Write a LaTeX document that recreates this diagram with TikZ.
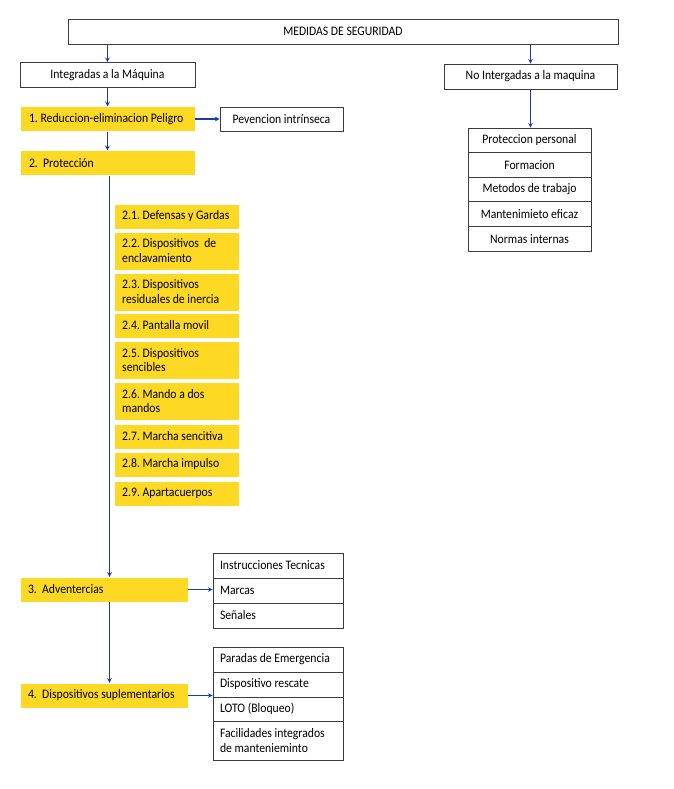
\documentclass[tikz,border=0pt]{standalone}
\usepackage{fontspec}
\setmainfont[FakeStretch=0.9]{Carlito}
\usepackage{tikz}
\usetikzlibrary{positioning, arrows}
\definecolor{yell}{RGB}{253,217,35}
\definecolor{linkblue}{RGB}{25,60,170}
\definecolor{edge}{RGB}{60,60,60}

\begin{document}
\frenchspacing
\begin{tikzpicture}[x=1pt,y=-1pt,->,>=stealth,
    font=\fontsize{13}{14.4}\selectfont,
    box/.style={draw=edge,line width=0.7pt,fill=white,inner sep=0pt,minimum height=25,align=center},
    item/.style={box,minimum width=130,text width=116,align=flush left},
    ybox/.style={fill=yell,draw=white,thin,inner xsep=8,inner ysep=0,minimum height=25,align=flush left},
    sub/.style={ybox,anchor=north west,text width=109},
    every edge/.append style={draw=linkblue,line width=1.1pt}]
      \useasboundingbox (0,0) rectangle (673,789);
      \hyphenpenalty=10000

      \node[box,minimum width=550] (top) at (343,31.5) {MEDIDAS DE SEGURIDAD};
      \node[box,minimum width=175] (int) at (107.5,75) {Integradas a la Máquina};
      \node[box,minimum width=173] (noint) at (530.5,76.5) {No Intergadas a la maquina};

      % no integradas
      \node[box,minimum width=123,minimum height=24.6] (pp) at (529.5,140.3) {Proteccion personal};
      \node[box,minimum width=123,minimum height=24.6] (form) at (529.5,164.9) {Formacion};
      \node[box,minimum width=123,minimum height=24.6] (met) at (529.5,189.5) {Metodos de trabajo};
      \node[box,minimum width=123,minimum height=24.6] (mant) at (529.5,214.1) {Mantenimieto eficaz};
      \node[box,minimum width=123,minimum height=24.6] (norm) at (529.5,238.7) {Normas internas};

      % integradas
      \node[ybox,inner xsep=9,minimum width=175,text width=157] (red) at (107.5,119) {1. Reduccion-eliminacion Peligro};
      \node[box,minimum width=123,minimum height=24] (pev) at (281.5,119) {Pevencion intrínseca};
      \node[ybox,inner xsep=9,minimum width=175,text width=157] (prot) at (107.5,163) {2.\ \ Protección};

      \node[sub,minimum height=25] (s1) at (114,203.5) {2.1. Defensas y Gardas};
      \node[sub,minimum height=38] (s2) at (114,231.5) {2.2. Dispositivos\ \ de\\enclavamiento};
      \node[sub,minimum height=38] (s3) at (114,272.5) {2.3. Dispositivos\\residuales de inercia};
      \node[sub,minimum height=25] (s4) at (114,312.5) {2.4. Pantalla movil};
      \node[sub,minimum height=38] (s5) at (114,341) {2.5. Dispositivos\\sencibles};
      \node[sub,minimum height=38] (s6) at (114,382) {2.6. Mando a dos\\mandos};
      \node[sub,minimum height=25] (s7) at (114,423.5) {2.7. Marcha sencitiva};
      \node[sub,minimum height=25] (s8) at (114,451.5) {2.8. Marcha impulso};
      \node[sub,minimum height=25] (s9) at (114,480.5) {2.9. Apartacuerpos};

      \node[ybox,minimum width=168,text width=152] (adv) at (104,589.5) {3.\ \ Adventercias};
      \node[item] (ins) at (278,565.5) {Instrucciones Tecnicas};
      \node[item] (mar) at (278,590.5) {Marcas};
      \node[item] (sen) at (278,615.5) {Señales};

      \node[ybox,minimum width=168,text width=152] (sup) at (104,695.5) {4.\ \ Dispositivos suplementarios};
      \node[item] (par) at (278,659.5) {Paradas de Emergencia};
      \node[item] (res) at (278,684.5) {Dispositivo rescate};
      \node[item,minimum height=24] (loto) at (278,709) {LOTO (Bloqueo)};
      \node[item,minimum height=39] (fac) at (278,740.5) {Facilidades integrados\\de manteniemin{}to};

      \path (top.south -| int) edge (int)
            (top.south -| noint) edge (noint)
            (noint) edge (noint |- pp.north)
            (int) edge (red)
            (red) edge (pev)
            (red) edge (prot)
            ([xshift=2]prot.south) edge ([xshift=2]prot.south |- adv.north)
            ([xshift=2]prot.south |- adv.south) edge ([xshift=2]prot.south |- sup.north)
            (adv) edge (adv -| mar.west)
            (sup) edge (sup -| res.west)
            ;
\end{tikzpicture}
\end{document}
